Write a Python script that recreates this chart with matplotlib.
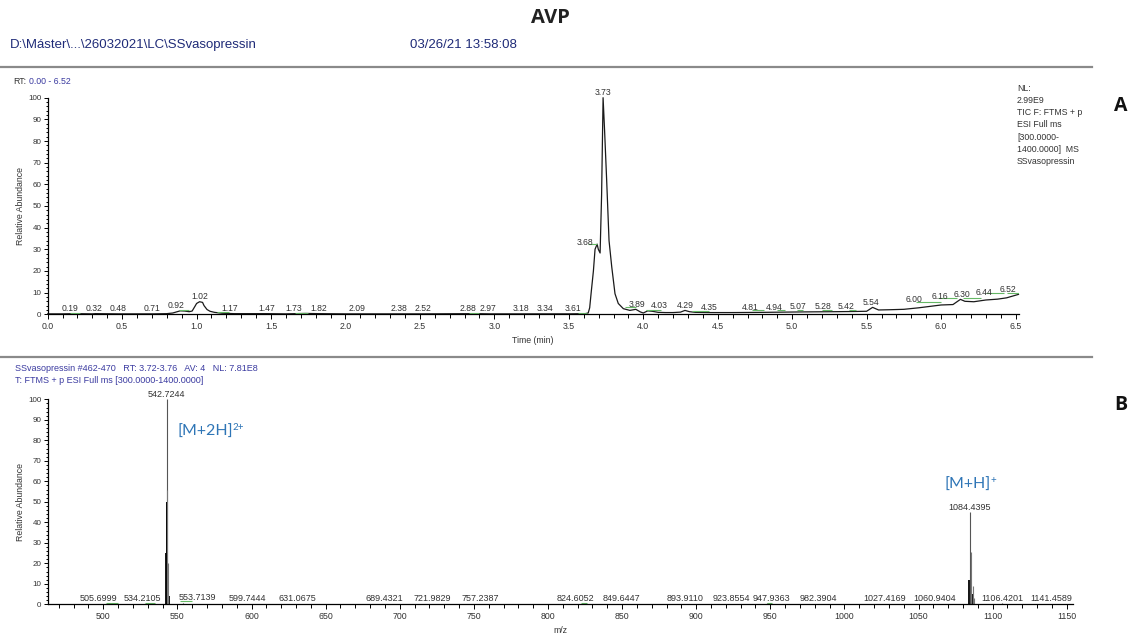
import numpy as np
import matplotlib
matplotlib.use("Agg")
import matplotlib.pyplot as plt
from matplotlib.lines import Line2D
from matplotlib.ticker import MultipleLocator, FormatStrFormatter

plt.rcParams['font.family'] = ['Liberation Sans', 'DejaVu Sans']

# ---------------- Chromatogram (TIC) ----------------
rt_min = [0.00, 0.10, 0.19, 0.30, 0.32, 0.48, 0.60, 0.71, 0.80, 0.84, 0.87, 0.89,
          0.92, 0.95, 0.97, 0.99, 1.00, 1.02, 1.04, 1.05, 1.07, 1.09, 1.12, 1.17,
          1.25, 1.47, 1.60, 1.73, 1.82, 2.00, 2.09, 2.38, 2.52, 2.88, 2.97, 3.18,
          3.34, 3.50, 3.61, 3.63, 3.64, 3.65, 3.665, 3.676, 3.69, 3.698, 3.71, 3.72,
          3.73, 3.74, 3.754, 3.77, 3.788, 3.81, 3.832, 3.866, 3.91, 3.95, 3.98, 4.00,
          4.03, 4.06, 4.10, 4.15, 4.20, 4.25, 4.28, 4.31, 4.35, 4.45, 4.60, 4.81,
          4.94, 5.07, 5.28, 5.42, 5.50, 5.54, 5.58, 5.65, 5.75, 5.85, 6.00, 6.08,
          6.13, 6.16, 6.22, 6.30, 6.38, 6.44, 6.52]
tic_rel = [0.2, 0.2, 0.3, 0.2, 0.3, 0.2, 0.2, 0.2, 0.3, 0.6, 1.2, 1.6,
           1.5, 1.2, 1.5, 3.8, 5.0, 5.8, 5.5, 4.0, 2.2, 1.4, 0.9, 0.5,
           0.3, 0.3, 0.2, 0.4, 0.3, 0.2, 0.2, 0.2, 0.2, 0.3, 0.2, 0.2,
           0.2, 0.2, 0.3, 0.6, 3.0, 10.0, 20.0, 30.0, 32.4, 30.0, 28.3, 55.0,
           100.0, 85.0, 62.0, 34.0, 22.0, 9.5, 5.0, 2.6, 1.8, 2.3, 1.1, 0.6,
           1.6, 1.4, 0.9, 0.8, 0.8, 1.0, 1.8, 1.2, 0.9, 0.8, 0.8, 0.9,
           1.0, 1.1, 1.2, 1.3, 1.4, 3.2, 2.0, 2.1, 2.3, 3.0, 4.3, 4.5,
           6.9, 6.0, 5.8, 6.6, 7.0, 7.6, 9.2]

rt_peak_labels = [0.19, 0.32, 0.48, 0.71, 0.92, 1.02, 1.17, 1.47, 1.73, 1.82,
                  2.09, 2.38, 2.52, 2.88, 2.97, 3.18, 3.34, 3.61, 3.68, 3.73,
                  3.89, 4.03, 4.29, 4.35, 4.81, 4.94, 5.07, 5.28, 5.42, 5.54,
                  6.00, 6.16, 6.30, 6.44, 6.52]
# where each retention-time tag is centred along the time axis (tags are
# nudged sideways so that neighbours do not collide)
rt_tag_x = [0.15, 0.31, 0.47, 0.70, 0.86, 1.02, 1.22, 1.47, 1.65, 1.82,
            2.08, 2.36, 2.52, 2.82, 2.96, 3.18, 3.34, 3.53, 3.61, 3.73,
            3.96, 4.11, 4.28, 4.44, 4.72, 4.88, 5.04, 5.21, 5.36, 5.53,
            5.82, 5.99, 6.14, 6.29, 6.45]

# integration baselines (start, end, level)
rt_base_start = [0.15, 0.88, 1.14, 1.66, 2.83, 3.56, 3.63, 3.88, 4.02, 4.33,
                 4.73, 4.90, 5.03, 5.20, 5.38, 5.83, 5.98, 6.15, 6.30, 6.44]
rt_base_end = [0.22, 0.95, 1.22, 1.75, 2.90, 3.62, 3.69, 3.95, 4.12, 4.44,
               4.81, 4.95, 5.07, 5.27, 5.43, 6.00, 6.11, 6.27, 6.42, 6.52]
rt_base_level = [0.8, 1.8, 1.0, 0.8, 0.6, 0.5, 32.5, 3.2, 2.2, 1.5,
                 1.8, 1.9, 1.9, 1.9, 1.8, 5.7, 7.4, 7.7, 9.7, 9.7]

# ---------------- Mass spectrum ----------------
mz_labeled = [505.6999, 534.2105, 542.7244, 553.7139, 599.7444, 631.0675,
              689.4321, 721.9829, 757.2387, 824.6052, 849.6447, 893.9110,
              923.8554, 947.9363, 982.3904, 1027.4169, 1060.9404, 1084.4395,
              1106.4201, 1141.4589]
rel_labeled = [0.4, 0.4, 100.0, 0.6, 0.3, 0.3,
               0.3, 0.3, 0.3, 0.4, 0.3, 0.3,
               0.3, 0.4, 0.3, 0.3, 0.3, 44.9,
               0.5, 0.3]
mz_isotope = [543.2250, 543.7265, 1085.4425, 1086.4450, 1087.4460]
rel_isotope = [56.0, 20.0, 25.4, 9.0, 3.0]
mz_profile = [542.45, 542.85, 543.05, 543.95, 544.25, 1083.95, 1085.95]
rel_profile = [25.0, 50.0, 50.0, 19.5, 4.0, 11.9, 5.0]
# sideways nudge of the m/z tags, in pixels
label_shift_px = {505.6999: -13, 534.2105: -12, 553.7139: 15, 599.7444: -4,
                  757.2387: -4, 824.6052: -9, 893.9110: -2, 947.9363: 4,
                  1141.4589: -3}

mz_base_start = [502.0, 528.0, 552.0, 822.0, 948.0]
mz_base_end = [510.0, 535.0, 560.0, 826.0, 951.0]
mz_base_level = [0.5, 0.5, 1.5, 0.5, 0.5]

# ---------------- Figure ----------------
W, H = 1137, 641
fig = plt.figure(figsize=(W / 100, H / 100), dpi=100)


def fx(px):
    return px / W


def fy(py):
    return 1 - py / H


axA = fig.add_axes([fx(47.7), fy(314.3), fx(1018.5 - 47.7), (314.3 - 97.7) / H])
axB = fig.add_axes([fx(47.7), fy(604.3), fx(1072.7 - 47.7), (604.3 - 399.3) / H])

tick_color = '#333333'
navy = '#1f2b78'
blue_small = '#3a3aa0'
green = '#66b866'


def style(ax):
    for s in ('top', 'right'):
        ax.spines[s].set_visible(False)
    for s in ('left', 'bottom'):
        ax.spines[s].set_color('black')
        ax.spines[s].set_linewidth(0.9)
    ax.tick_params(axis='both', which='both', direction='out', colors='black',
                   labelcolor=tick_color, width=0.7)
    ax.tick_params(axis='x', which='major', length=3.8, labelsize=6.3, pad=2)
    ax.tick_params(axis='x', which='minor', length=3.0)
    ax.tick_params(axis='y', which='major', length=3.0, labelsize=5.8, pad=1.5)
    ax.tick_params(axis='y', which='minor', length=1.5)
    ax.set_ylim(0, 100)
    ax.yaxis.set_major_locator(MultipleLocator(10))
    ax.yaxis.set_minor_locator(MultipleLocator(2))
    ax.set_ylabel('Relative Abundance', fontsize=6.3, color=tick_color, labelpad=2.5)
    ax.patch.set_alpha(0)


style(axA)
style(axB)

# Chromatogram
axA.set_xlim(0, 6.52)
axA.xaxis.set_major_locator(MultipleLocator(0.5))
axA.xaxis.set_minor_locator(MultipleLocator(0.1))
axA.xaxis.set_major_formatter(FormatStrFormatter('%.1f'))
axA.plot(rt_min, tic_rel, color='#1a1a1a', lw=0.9, clip_on=False)
axA.hlines(rt_base_level, rt_base_start, rt_base_end, color=green, lw=0.8)
for t, tx in zip(rt_peak_labels, rt_tag_x):
    y = float(np.interp(t, rt_min, tic_rel))
    axA.annotate(f'{t:.2f}', xy=(tx, y), xytext=(0, 2.6), textcoords='offset pixels',
                 ha='center', va='baseline', fontsize=6.2, color=tick_color,
                 annotation_clip=False)
axA.set_xlabel('Time (min)', fontsize=6.3, color=tick_color, labelpad=3)

# Mass spectrum
axB.set_xlim(462.5, 1154)
axB.xaxis.set_major_locator(MultipleLocator(50))
axB.xaxis.set_minor_locator(MultipleLocator(10))
axB.vlines(mz_profile, 0, rel_profile, color='black', lw=1.3)
axB.vlines(mz_labeled, 0, rel_labeled, color='#555555', lw=0.8)
axB.vlines(mz_isotope, 0, rel_isotope, color='#777777', lw=0.8)
axB.hlines(mz_base_level, mz_base_start, mz_base_end, color=green, lw=0.8)
for m, r in zip(mz_labeled, rel_labeled):
    axB.annotate(f'{m:.4f}', xy=(m, r), xytext=(label_shift_px.get(m, 0), 2.6),
                 textcoords='offset pixels', ha='center', va='baseline',
                 fontsize=6.5, color=tick_color, annotation_clip=False)
axB.set_xlabel('m/z', fontsize=6.3, color=tick_color, labelpad=3)

# Ion annotations
ion_blue = '#2e75b6'
t1 = axB.text(550.2, 84.2, '[M+2H]', fontsize=11.5, family='Lato', color=ion_blue,
              va='center', ha='left')
axB.annotate('2+', xy=(1, 0.82), xycoords=t1, xytext=(-0.3, 0), textcoords='offset points',
             fontsize=7, family='Lato', color=ion_blue, ha='left', va='center')
t2 = axB.text(1067.5, 58.2, '[M+H]', fontsize=11.5, family='Lato', color=ion_blue,
              va='center', ha='left')
axB.annotate('+', xy=(1, 0.82), xycoords=t2, xytext=(-0.3, 0), textcoords='offset points',
             fontsize=7, family='Lato', color=ion_blue, ha='left', va='center')

# Header texts
fig.text(fx(550), fy(18), 'AVP', fontsize=14.5, fontweight='bold', family='Open Sans',
         ha='center', va='center', color='#222222')
fig.text(fx(10), fy(45), 'D:\\Máster\\...\\26032021\\LC\\SSvasopressin', fontsize=9.5,
         color=navy, ha='left', va='center')
fig.text(fx(410), fy(45), '03/26/21 13:58:08', fontsize=9.5, color=navy,
         ha='left', va='center')
fig.add_artist(Line2D([0, fx(1092)], [fy(66.7)] * 2, color='#8a8a8a', lw=1.6))
fig.add_artist(Line2D([0, fx(1092)], [fy(356.7)] * 2, color='#8a8a8a', lw=1.6))

rt = fig.text(fx(13), fy(81), 'RT:', fontsize=6.3, color=tick_color, ha='left', va='center')
fig.text(1, 0.5, '0.00 - 6.52', transform=rt.get_transform(), fontsize=6.3,
         color=blue_small, ha='left', va='center')
fig.texts[-1].remove()
fig.add_artist(plt.Annotation('0.00 - 6.52', xy=(1, 0.5), xycoords=rt, xytext=(3, 0),
                              textcoords='offset pixels', fontsize=6.3, color=blue_small,
                              ha='left', va='center'))

fig.text(fx(1017), fy(84), 'NL:\n2.99E9\nTIC F: FTMS + p\nESI Full ms\n[300.0000-\n1400.0000]  MS\nSSvasopressin',
         fontsize=6.3, color=tick_color, ha='left', va='top', linespacing=1.45)

fig.text(fx(15), fy(368.3), 'SSvasopressin #462-470   RT: 3.72-3.76   AV: 4   NL: 7.81E8',
         fontsize=6.5, color=blue_small, ha='left', va='center')
fig.text(fx(15), fy(380.7), 'T: FTMS + p ESI Full ms [300.0000-1400.0000]',
         fontsize=6.5, color=blue_small, ha='left', va='center')

fig.text(fx(1121), fy(106), 'A', fontsize=14, fontweight='bold', family='Open Sans',
         ha='center', va='center', color='#111111')
fig.text(fx(1121), fy(405), 'B', fontsize=14, fontweight='bold', family='Open Sans',
         ha='center', va='center', color='#111111')

fig.savefig('out.png', dpi=100)
